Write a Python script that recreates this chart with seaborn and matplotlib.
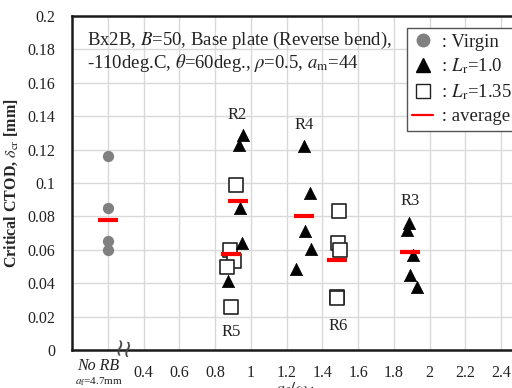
import matplotlib
matplotlib.use("Agg")
import matplotlib.pyplot as plt
from matplotlib.lines import Line2D
import seaborn as sns
import pandas as pd

# ---- data ----
virgin_x = [0.2, 0.2, 0.2, 0.2]
virgin_y = [0.1164, 0.085, 0.065, 0.060]

lr10_x = [0.955, 0.932, 0.942, 0.951, 0.871,
          1.296, 1.333, 1.301, 1.337, 1.253,
          1.886, 1.873, 1.905, 1.888, 1.929]
lr10_y = [0.1286, 0.123, 0.085, 0.064, 0.0416,
          0.122, 0.094, 0.071, 0.0604, 0.0486,
          0.076, 0.072, 0.057, 0.045, 0.038]

lr135_x = [0.920, 0.882, 0.904, 0.868, 0.890,
           1.491, 1.488, 1.497, 1.484, 1.484]
lr135_y = [0.0986, 0.0596, 0.053, 0.0496, 0.0256,
           0.0834, 0.064, 0.060, 0.032, 0.031]

avg_x = [0.2, 0.927, 0.89, 1.30, 1.484, 1.892]
avg_y = [0.0776, 0.089, 0.0574, 0.0804, 0.0538, 0.0584]

group_labels = ["R2", "R4", "R3", "R5", "R6"]
group_lx = [0.925, 1.30, 1.89, 0.89, 1.49]
group_ly = [0.141, 0.135, 0.0894, 0.0108, 0.0144]

yticks = [0, 0.02, 0.04, 0.06, 0.08, 0.1, 0.12, 0.14, 0.16, 0.18, 0.2]
ytick_labels = ["0", "0.02", "0.04", "0.06", "0.08", "0.1", "0.12", "0.14", "0.16", "0.18", "0.2"]
xticks = [0.2, 0.4, 0.6, 0.8, 1.0, 1.2, 1.4, 1.6, 1.8, 2.0, 2.2, 2.4]
xtick_labels = ["", "0.4", "0.6", "0.8", "1", "1.2", "1.4", "1.6", "1.8", "2", "2.2", "2.4"]

# ---- style ----
sns.set_theme(style="whitegrid")
plt.rcParams["font.family"] = ["Liberation Serif", "DejaVu Serif"]
plt.rcParams["mathtext.fontset"] = "stix"

fig = plt.figure(figsize=(5.12, 3.88), dpi=100)
ax = fig.add_axes([72/512, 1-350/388, 440/512, 334/388])

df_v = pd.DataFrame({"x": virgin_x, "y": virgin_y})
df_t = pd.DataFrame({"x": lr10_x, "y": lr10_y})
df_s = pd.DataFrame({"x": lr135_x, "y": lr135_y})
df_a = pd.DataFrame({"x": avg_x, "y": avg_y})

sns.scatterplot(data=df_v, x="x", y="y", ax=ax, marker="o", s=66,
                color="#808080", edgecolor="#808080", linewidth=0, zorder=3)
sns.scatterplot(data=df_s, x="x", y="y", ax=ax, marker="s", s=95,
                facecolor="white", edgecolor="#222222", linewidth=1.2, zorder=4)
sns.scatterplot(data=df_t, x="x", y="y", ax=ax, marker="^", s=78,
                color="black", edgecolor="black", linewidth=0.5, zorder=5)
sns.scatterplot(data=df_a, x="x", y="y", ax=ax, marker="_", s=210,
                color="#ff0000", linewidth=3.0, zorder=6)

ax.set_xlim(0, 2.461)
ax.set_ylim(0, 0.2)
ax.set_yticks(yticks)
ax.set_yticklabels(ytick_labels)
ax.set_xticks(xticks)
ax.set_xticklabels(xtick_labels)
ax.tick_params(axis="both", length=0, labelsize=11.5, colors="#222222")
ax.tick_params(axis="y", pad=12)
ax.tick_params(axis="x", pad=11)
ax.grid(True, color="#d9d9d9", linewidth=1.0)
ax.set_axisbelow(True)
for side in ["left", "bottom", "top"]:
    ax.spines[side].set_visible(True)
    ax.spines[side].set_color("#1a1a1a")
    ax.spines[side].set_linewidth(1.8)
ax.spines["right"].set_visible(False)
ax.set_facecolor("white")

ax.set_ylabel(r"Critical CTOD, $\delta_\mathrm{cr}$ [mm]", fontsize=11.5,
              fontweight="bold")
ax.yaxis.set_label_coords(-0.118, 0.5)
ax.set_xlabel(r"$a_\mathrm{f}/\omega_\mathrm{rb}$", fontsize=13, fontweight="bold")
ax.xaxis.set_label_coords(0.51, -0.118)
ax.xaxis.label.set_verticalalignment("center")

xt = ax.get_xaxis_transform()
ax.text(0.145, -0.047, "No RB", transform=xt, ha="center", va="center",
        fontsize=11.5, style="italic", color="#222222")
ax.text(0.15, -0.094, r"$a_\mathrm{f}$=4.7mm", transform=xt, ha="center",
        va="center", fontsize=8, color="#222222")
ax.text(0.29, 0.0, "\u2240\u2240", transform=xt, ha="center", va="center",
        fontsize=17, color="#444444", family="DejaVu Sans", rotation=-10)

for lab, lx, ly in zip(group_labels, group_lx, group_ly):
    ax.text(lx, ly, lab, ha="center", va="center", fontsize=12, color="#222222")

ax.text(0.033, 0.927, "Bx2B, $B$=50, Base plate (Reverse bend),",
        transform=ax.transAxes, ha="left", va="center", fontsize=13.5, color="#222222")
ax.text(0.033, 0.86, r"-110deg.C, $\theta$=60deg., $\rho$=0.5, $a_\mathrm{m}$=44",
        transform=ax.transAxes, ha="left", va="center", fontsize=13.5, color="#222222")

handles = [
    Line2D([], [], marker="o", color="#808080", linestyle="none", markersize=9),
    Line2D([], [], marker="^", color="black", linestyle="none", markersize=9.5),
    Line2D([], [], marker="s", markerfacecolor="white", markeredgecolor="#222222",
           linestyle="none", markersize=9.5),
    Line2D([], [], color="#ff0000", linewidth=1.6),
]
labels = [" : Virgin", r" : $L_\mathrm{r}$=1.0", r" : $L_\mathrm{r}$=1.35", " : average"]
leg = ax.legend(handles, labels, loc="upper left", bbox_to_anchor=(0.761, 0.964),
                borderaxespad=0, fontsize=13.5, frameon=True, fancybox=False,
                edgecolor="#555555", framealpha=1, handlelength=1.1,
                handletextpad=0.2, labelspacing=0.32, borderpad=0.3)
leg.get_frame().set_linewidth(1.0)
for t in leg.get_texts():
    t.set_color("#222222")

fig.savefig("out.png", dpi=100, facecolor="white")
